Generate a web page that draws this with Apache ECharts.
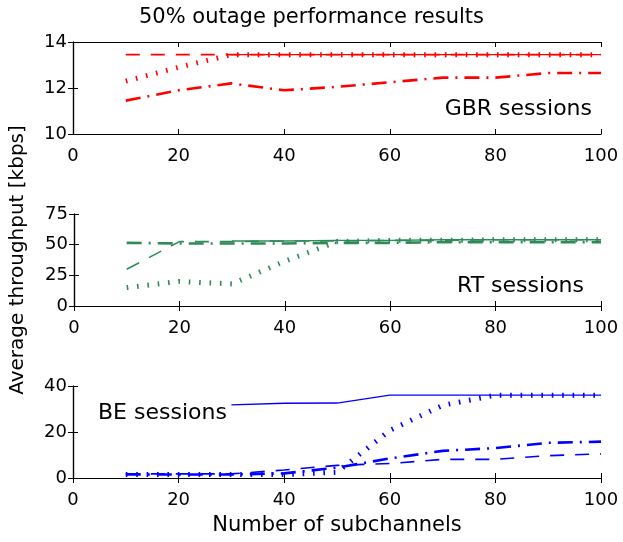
<!DOCTYPE html>
<html>
<head>
<meta charset="utf-8">
<script src="https://cdn.jsdelivr.net/npm/echarts@6/dist/echarts.min.js"></script>
<style>
html,body{margin:0;padding:0;background:#fff;}
#chart{width:623px;height:542px;}
</style>
</head>
<body>
<div id="chart"></div>
<script>
// ---- data ----
var subchannels = [10, 20, 30, 40, 50, 60, 70, 80, 90, 100];
var xTicks = [0, 20, 40, 60, 80, 100];

// GBR sessions
var gbrSolid   = [null, null, 13.45, 13.45, 13.45, 13.45, 13.45, 13.45, 13.45, 13.45];
var gbrDashed  = [13.45, 13.45, 13.45, 13.45, 13.45, 13.45, 13.45, 13.45, 13.45, 13.45];
var gbrDotted  = [12.3, 12.9, 13.45, 13.45, 13.45, 13.45, 13.45, 13.45, 13.45, 13.45];
var gbrDashDot = [11.45, 11.9, 12.2, 11.9, 12.05, 12.25, 12.45, 12.45, 12.65, 12.65];

// RT sessions
var rtSolid   = [null, null, 53, 53, 53.5, 53.5, 54, 54, 54, 54];
var rtDashed  = [30, 52.5, 52.5, 53, 53, 53.5, 53.5, 54, 54, 54];
var rtDotted  = [15, 20, 18, 36.5, 52.5, 53.5, 53.5, 54, 54, 54];
var rtDashDot = [51.5, 51, 51, 51, 51.5, 51.5, 52, 52, 52, 52];

// BE sessions
var beSolid   = [null, null, 31.8, 32.5, 32.6, 36, 36, 36, 36, 36];
var beDashed  = [1.8, 1.8, 1.8, 3.5, 5.5, 6.3, 8.1, 8.1, 9.7, 10.5];
var beDotted  = [1.5, 1.5, 1.5, 1.5, 2.5, 20.7, 31.6, 36, 36, 36];
var beDashDot = [1.5, 1.5, 1.5, 2, 4.5, 8.5, 11.8, 13, 15.3, 15.8];

var panelLabels = ['GBR sessions', 'RT sessions', 'BE sessions'];
var yRanges = [[10, 14, 2], [0, 75, 25], [0, 40, 20]];
var colors = ['#ff0000', '#2e8b57', '#0000ff'];

// ---- chart ----
var FONT = 'DejaVu Sans';
function pairs(arr) {
  var out = [];
  for (var i = 0; i < subchannels.length; i++) {
    if (arr[i] !== null) out.push([subchannels[i], arr[i]]);
  }
  return out;
}
var panels = [
  [gbrSolid, gbrDashed, gbrDotted, gbrDashDot],
  [rtSolid, rtDashed, rtDotted, rtDashDot],
  [beSolid, beDashed, beDotted, beDashDot]
];
var tops = [42, 214, 386];
var grids = [], xAxes = [], yAxes = [], series = [];
for (var p = 0; p < 3; p++) {
  grids.push({left: 73, right: 22, top: tops[p], height: 92, containLabel: false});
  var axLine = {show: true, lineStyle: {color: '#000', width: 1.2}};
  var tick = {show: true, inside: true, length: 5, lineStyle: {color: '#000', width: 1}};
  xAxes.push({
    type: 'value', gridIndex: p, position: 'bottom', min: 0, max: 100, interval: 20,
    axisLine: axLine, axisTick: tick, splitLine: {show: false},
    axisLabel: {color: '#000', fontSize: 18, fontFamily: FONT, margin: 13},
    name: p === 2 ? 'Number of subchannels' : '',
    nameLocation: 'middle', nameGap: 37,
    nameTextStyle: {color: '#000', fontSize: 21, fontFamily: FONT}
  });
  xAxes.push({
    type: 'value', gridIndex: p, position: 'top', min: 0, max: 100, interval: 20,
    axisLine: axLine, axisTick: tick, splitLine: {show: false}, axisLabel: {show: false}
  });
  var r = yRanges[p];
  yAxes.push({
    type: 'value', gridIndex: p, position: 'left', min: r[0], max: r[1], interval: r[2],
    axisLine: axLine, axisTick: tick, splitLine: {show: false},
    axisLabel: {color: '#000', fontSize: 18, fontFamily: FONT, margin: 6},
    name: p === 1 ? 'Average throughput [kbps]' : '',
    nameLocation: 'middle', nameGap: 46, nameRotate: 90,
    nameTextStyle: {color: '#000', fontSize: 20, fontFamily: FONT}
  });
  yAxes.push({
    type: 'value', gridIndex: p, position: 'right', min: r[0], max: r[1], interval: r[2],
    axisLine: axLine, axisTick: tick, splitLine: {show: false}, axisLabel: {show: false}
  });
  var c = colors[p];
  var styles = [
    {width: 1.3, type: 'solid'},
    {width: 1.6, type: [14, 11]},
    {width: 5, type: [1.6, 8.8]},
    {width: 2.6, type: [15, 7, 2, 7]}
  ];
  for (var s = 0; s < 4; s++) {
    series.push({
      type: 'line', xAxisIndex: p * 2, yAxisIndex: p * 2,
      data: pairs(panels[p][s]), showSymbol: false, symbol: 'none',
      lineStyle: Object.assign({color: c, cap: 'butt'}, styles[s]),
      z: 2 + (s === 0 ? 3 : 0), silent: true, animation: false
    });
  }
}

var chart = echarts.init(document.getElementById('chart'), null, {renderer: 'canvas'});
chart.setOption({
  animation: false,
  backgroundColor: '#fff',
  title: [
    {text: '50% outage performance results', left: 'center', top: 2,
     textStyle: {color: '#000', fontSize: 21, fontWeight: 'normal', fontFamily: FONT}},
    {text: panelLabels[0], right: 26, top: 93,
     textStyle: {color: '#000', fontSize: 22, fontWeight: 'normal', fontFamily: FONT}},
    {text: panelLabels[1], right: 34, top: 270,
     textStyle: {color: '#000', fontSize: 22, fontWeight: 'normal', fontFamily: FONT}},
    {text: panelLabels[2], left: 93, top: 397,
     textStyle: {color: '#000', fontSize: 22, fontWeight: 'normal', fontFamily: FONT}}
  ],
  grid: grids,
  xAxis: xAxes,
  yAxis: yAxes,
  series: series
});
</script>
</body>
</html>
